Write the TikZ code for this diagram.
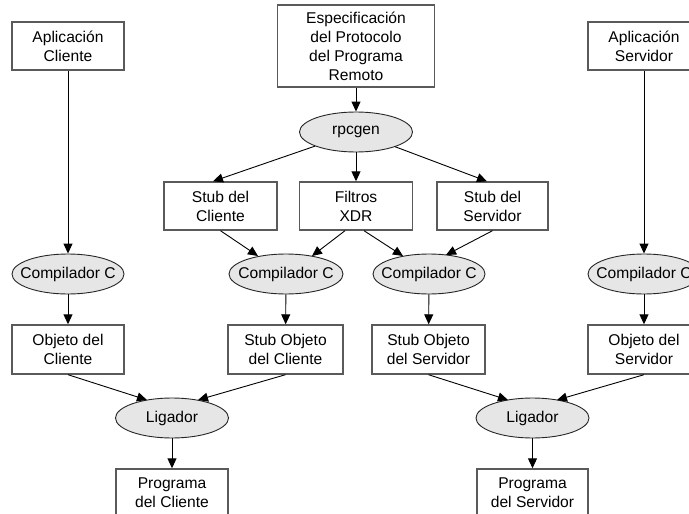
\documentclass[tikz,border=0pt]{standalone}
\usepackage{fontspec}
\setmainfont{Liberation Sans}
\usetikzlibrary{shapes.geometric,arrows.meta,calc}
\definecolor{boxline}{HTML}{5A5A5A}
\definecolor{ellfill}{HTML}{E6E6E6}
\newcommand\diafont{\fontsize{15.6}{19}\selectfont}
\begin{document}
\begin{tikzpicture}[x=1pt,y=-1pt,
  box/.style={draw=boxline, line width=1.4pt, fill=white, minimum height=48pt,
    inner sep=0pt, align=center, font=\diafont},
  ell/.style={ellipse, draw=black!85, line width=0.9pt, fill=ellfill,
    minimum height=40pt, minimum width=113pt, inner sep=0pt},
  every label/.style={font=\diafont, inner sep=0pt},
  arr/.style={-{Triangle[length=10pt,width=9pt]}, line width=0.9pt}]
\useasboundingbox (0,0) rectangle (689,514);
\clip (0,0) rectangle (689,514);
% top row
\node[box, minimum width=112pt] (ac) at (68,46) {Aplicación\\Cliente};
\node[box, minimum width=157pt, minimum height=82pt] (esp) at (356,46)
  {Especificación\\del Protocolo\\del Programa\\Remoto};
\node[box, minimum width=112pt] (as) at (644,46) {Aplicación\\Servidor};
% rpcgen
\node[ell, label={center:rpcgen}] (rpc) at (356,132) {};
% stubs row
\node[box, minimum width=113pt] (sc) at (220.5,206) {Stub del\\Cliente};
\node[box, minimum width=113pt] (fx) at (356,206) {Filtros\\XDR};
\node[box, minimum width=111pt] (ss) at (492.5,206) {Stub del\\Servidor};
% compilers
\node[ell, minimum width=112pt, label={center:Compilador C}] (cc1) at (68,274) {};
\node[ell, minimum width=114pt, label={center:Compilador C}] (cc2) at (286,274) {};
\node[ell, minimum width=112pt, label={center:Compilador C}] (cc3) at (429,274) {};
\node[ell, minimum width=112pt, label={center:Compilador C}] (cc4) at (644,274) {};
% objects
\node[box, minimum width=112pt, minimum height=49pt] (oc) at (68,349.5) {Objeto del\\Cliente};
\node[box, minimum width=115pt, minimum height=49pt] (soc) at (285.5,349.5) {Stub Objeto\\del Cliente};
\node[box, minimum width=113pt, minimum height=49pt] (sos) at (428.5,349.5) {Stub Objeto\\del Servidor};
\node[box, minimum width=112pt, minimum height=49pt] (os) at (644,349.5) {Objeto del\\Servidor};
% linkers
\node[ell, label={center:Ligador}] (lc) at (172,418) {};
\node[ell, label={center:Ligador}] (ls) at (532.5,418) {};
% programs
\node[box, minimum width=112pt] (pc) at (172,493) {Programa\\del Cliente};
\node[box, minimum width=111pt] (ps) at (532.5,493) {Programa\\del Servidor};
% connectors
\draw[arr] (ac) -- (cc1);
\draw[arr] (as) -- (cc4);
\draw[arr] (esp) -- (rpc);
\draw[arr] (rpc) -- ($(sc.north)+(-7.5,0)$);
\draw[arr] (rpc) -- (fx);
\draw[arr] (rpc) -- ($(ss.north)+(-5.5,0)$);
\draw[arr] (sc.south) -- ($(cc2)+(-28,-18)$);
\draw[arr] ($(fx.south)+(-11,0)$) -- ($(cc2)+(26,-18)$);
\draw[arr] ($(fx.south)+(8,0)$) -- ($(cc3)+(-26,-18)$);
\draw[arr] (ss.south) -- ($(cc3)+(17,-19)$);
\draw[arr] (cc1) -- (oc);
\draw[arr] (cc2) -- (soc);
\draw[arr] (cc3) -- (sos);
\draw[arr] (cc4) -- (os);
\draw[arr] (oc.south) -- ($(lc)+(-25,-18)$);
\draw[arr] (soc.south) -- ($(lc)+(26,-18)$);
\draw[arr] (sos.south) -- ($(ls)+(-24.5,-18)$);
\draw[arr] (os.south) -- ($(ls)+(24.5,-18)$);
\draw[arr] (lc) -- (pc);
\draw[arr] (ls) -- (ps);
\end{tikzpicture}
\end{document}
